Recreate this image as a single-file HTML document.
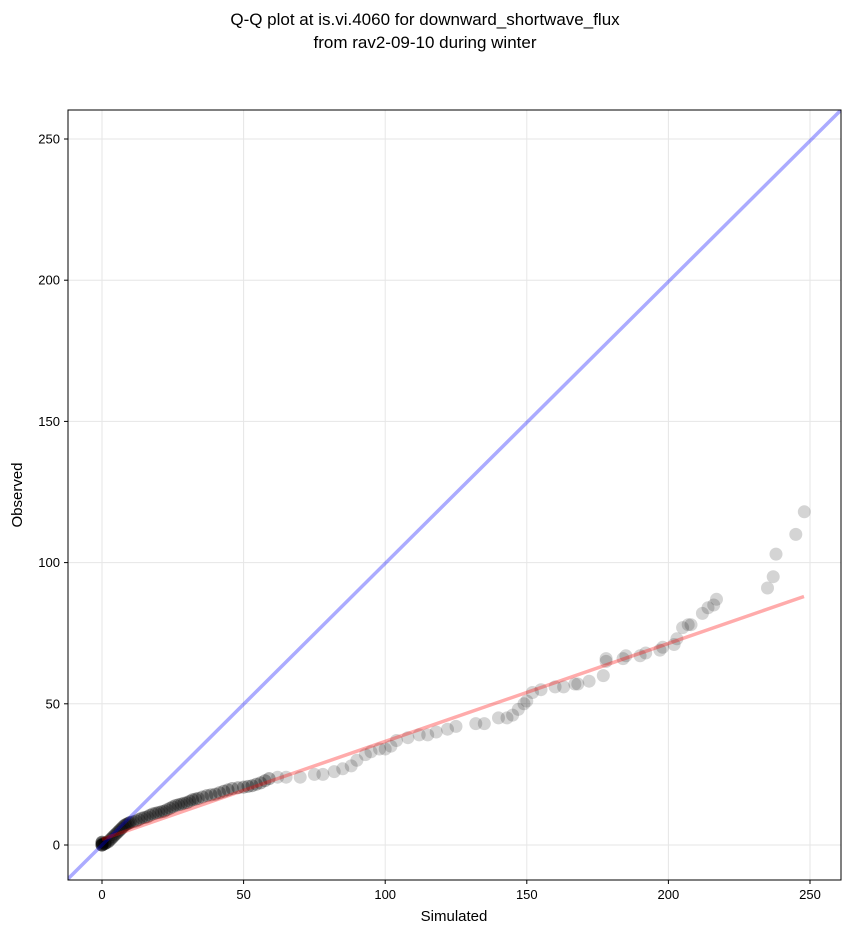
<!DOCTYPE html>
<html><head><meta charset="utf-8"><style>
body{margin:0;background:#fff;font-family:"Liberation Sans","DejaVu Sans",sans-serif;}
circle{fill:#000;fill-opacity:0.17;}
.d circle{fill-opacity:0.3;}
</style></head><body>
<svg width="851" height="934" xmlns="http://www.w3.org/2000/svg" font-family="Liberation Sans, DejaVu Sans, sans-serif">
<rect width="851" height="934" fill="#fff"/>
<text x="425" y="25" font-size="17" text-anchor="middle">Q-Q plot at is.vi.4060 for downward_shortwave_flux</text>
<text x="425" y="48" font-size="17" text-anchor="middle">from rav2-09-10 during winter</text>
<defs><clipPath id="c"><rect x="68" y="110" width="773" height="770"/></clipPath></defs>
<g stroke="#e6e6e6" stroke-width="1">
<line x1="102" y1="110" x2="102" y2="880"/><line x1="243.6" y1="110" x2="243.6" y2="880"/><line x1="385.2" y1="110" x2="385.2" y2="880"/><line x1="526.8" y1="110" x2="526.8" y2="880"/><line x1="668.4" y1="110" x2="668.4" y2="880"/><line x1="810" y1="110" x2="810" y2="880"/>
<line x1="68" y1="845" x2="841" y2="845"/><line x1="68" y1="703.8" x2="841" y2="703.8"/><line x1="68" y1="562.6" x2="841" y2="562.6"/><line x1="68" y1="421.4" x2="841" y2="421.4"/><line x1="68" y1="280.2" x2="841" y2="280.2"/><line x1="68" y1="139" x2="841" y2="139"/>
</g>
<g clip-path="url(#c)">
<g class="d">
<circle cx="102" cy="845" r="6.5"/><circle cx="102" cy="845" r="6.5"/><circle cx="102" cy="845" r="6.5"/><circle cx="102" cy="842.2" r="6.5"/><circle cx="102" cy="842.2" r="6.5"/><circle cx="102" cy="843.5" r="6.5"/>
<circle cx="103" cy="844" r="6.5"/><circle cx="104.8" cy="843.6" r="6.5"/><circle cx="104.8" cy="843.6" r="6.5"/><circle cx="106" cy="842.8" r="6.5"/><circle cx="107.7" cy="842.2" r="6.5"/><circle cx="109" cy="841" r="6.5"/>
<circle cx="110.5" cy="839.4" r="6.5"/><circle cx="112" cy="838" r="6.5"/><circle cx="113.3" cy="836.5" r="6.5"/><circle cx="114.8" cy="835" r="6.5"/><circle cx="116.2" cy="833.7" r="6.5"/><circle cx="117.6" cy="832.3" r="6.5"/>
<circle cx="119" cy="830.9" r="6.5"/><circle cx="120.4" cy="829.5" r="6.5"/><circle cx="121.8" cy="828.1" r="6.5"/><circle cx="123.2" cy="826.6" r="6.5"/><circle cx="124.7" cy="825.2" r="6.5"/><circle cx="126" cy="824.5" r="6.5"/>
<circle cx="127.5" cy="823.8" r="6.5"/><circle cx="129" cy="823" r="6.5"/><circle cx="130.3" cy="822.4" r="6.5"/><circle cx="133" cy="821.7" r="6.5"/><circle cx="136" cy="821" r="6.5"/><circle cx="138.8" cy="819.6" r="6.5"/>
<circle cx="141.6" cy="818.2" r="6.5"/><circle cx="144.5" cy="817.5" r="6.5"/><circle cx="147.3" cy="816.8" r="6.5"/><circle cx="150" cy="815.3" r="6.5"/><circle cx="153" cy="813.9" r="6.5"/><circle cx="155.8" cy="813.2" r="6.5"/>
<circle cx="158.6" cy="812.5" r="6.5"/><circle cx="161.5" cy="811.8" r="6.5"/><circle cx="164.3" cy="811.1" r="6.5"/><circle cx="167" cy="809.7" r="6.5"/><circle cx="170" cy="808.3" r="6.5"/><circle cx="172.8" cy="806.9" r="6.5"/>
<circle cx="175.6" cy="805.5" r="6.5"/><circle cx="178.5" cy="804.8" r="6.5"/><circle cx="181.3" cy="804.1" r="6.5"/><circle cx="184" cy="803.3" r="6.5"/><circle cx="187" cy="802.6" r="6.5"/><circle cx="189.8" cy="801.2" r="6.5"/>
<circle cx="192.6" cy="799.8" r="6.5"/><circle cx="195.5" cy="799.1" r="6.5"/><circle cx="198.3" cy="798.4" r="6.5"/><circle cx="202.5" cy="797" r="6.5"/><circle cx="206.8" cy="795.6" r="6.5"/><circle cx="211" cy="794.9" r="6.5"/>
<circle cx="215.3" cy="794.2" r="6.5"/><circle cx="219.5" cy="792.7" r="6.5"/><circle cx="223.8" cy="791.3" r="6.5"/><circle cx="228" cy="789.9" r="6.5"/><circle cx="232.3" cy="788.5" r="6.5"/><circle cx="238" cy="787.8" r="6.5"/>
<circle cx="243.6" cy="787.1" r="6.5"/><circle cx="248" cy="786.4" r="6.5"/><circle cx="252.1" cy="785.7" r="6.5"/><circle cx="256.3" cy="784.3" r="6.5"/><circle cx="260.6" cy="782.9" r="6.5"/><circle cx="265" cy="780.7" r="6.5"/>
<circle cx="269.1" cy="778.6" r="6.5"/>
</g>
<g>
<circle cx="277.6" cy="777.2" r="6.5"/>
<circle cx="286.1" cy="777.2" r="6.5"/><circle cx="300.2" cy="777.2" r="6.5"/><circle cx="314.4" cy="774.4" r="6.5"/><circle cx="322.9" cy="774.4" r="6.5"/><circle cx="334.2" cy="771.6" r="6.5"/><circle cx="342.7" cy="768.8" r="6.5"/>
<circle cx="351.2" cy="765.9" r="6.5"/><circle cx="356.9" cy="760.3" r="6.5"/><circle cx="365.4" cy="754.6" r="6.5"/><circle cx="371" cy="751.8" r="6.5"/><circle cx="379.5" cy="749" r="6.5"/><circle cx="385.2" cy="749" r="6.5"/>
<circle cx="390.9" cy="746.2" r="6.5"/><circle cx="396.5" cy="740.5" r="6.5"/><circle cx="407.9" cy="737.7" r="6.5"/><circle cx="419.2" cy="734.9" r="6.5"/><circle cx="427.7" cy="734.9" r="6.5"/><circle cx="436.2" cy="732" r="6.5"/>
<circle cx="447.5" cy="729.2" r="6.5"/><circle cx="456" cy="726.4" r="6.5"/><circle cx="475.8" cy="723.6" r="6.5"/><circle cx="484.3" cy="723.6" r="6.5"/><circle cx="498.5" cy="717.9" r="6.5"/><circle cx="507" cy="717.9" r="6.5"/>
<circle cx="512.6" cy="715.1" r="6.5"/><circle cx="518.3" cy="709.4" r="6.5"/><circle cx="524" cy="703.8" r="6.5"/><circle cx="526.8" cy="701" r="6.5"/><circle cx="532.5" cy="692.5" r="6.5"/><circle cx="541" cy="689.7" r="6.5"/>
<circle cx="555.1" cy="686.9" r="6.5"/><circle cx="563.6" cy="686.9" r="6.5"/><circle cx="574.9" cy="684" r="6.5"/><circle cx="577.8" cy="684" r="6.5"/><circle cx="589.1" cy="681.2" r="6.5"/><circle cx="603.3" cy="675.6" r="6.5"/>
<circle cx="606.1" cy="661.4" r="6.5"/><circle cx="606.1" cy="658.6" r="6.5"/><circle cx="623.1" cy="658.6" r="6.5"/><circle cx="625.9" cy="655.8" r="6.5"/><circle cx="640.1" cy="655.8" r="6.5"/><circle cx="645.7" cy="653" r="6.5"/>
<circle cx="659.9" cy="650.1" r="6.5"/><circle cx="662.7" cy="647.3" r="6.5"/><circle cx="674.1" cy="644.5" r="6.5"/><circle cx="676.9" cy="638.8" r="6.5"/><circle cx="682.6" cy="627.6" r="6.5"/><circle cx="688.2" cy="624.7" r="6.5"/>
<circle cx="691" cy="624.7" r="6.5"/><circle cx="702.4" cy="613.4" r="6.5"/><circle cx="708" cy="607.8" r="6.5"/><circle cx="713.7" cy="605" r="6.5"/><circle cx="716.5" cy="599.3" r="6.5"/><circle cx="767.5" cy="588" r="6.5"/>
<circle cx="773.2" cy="576.7" r="6.5"/><circle cx="776" cy="554.1" r="6.5"/><circle cx="795.8" cy="534.4" r="6.5"/><circle cx="804.3" cy="511.8" r="6.5"/>
</g>
<line x1="68" y1="878.9" x2="841" y2="110" stroke="#0000ff" stroke-opacity="0.33" stroke-width="3.5"/>
<line x1="102" y1="839.4" x2="804" y2="596.5" stroke="#ff0000" stroke-opacity="0.33" stroke-width="3.5"/>
</g>
<rect x="68" y="110" width="773" height="770" fill="none" stroke="#000" stroke-width="1"/>
<g font-size="13" text-anchor="middle">
<g stroke="#000"><line x1="102" y1="880" x2="102" y2="884"/><line x1="243.6" y1="880" x2="243.6" y2="884"/><line x1="385.2" y1="880" x2="385.2" y2="884"/><line x1="526.8" y1="880" x2="526.8" y2="884"/><line x1="668.4" y1="880" x2="668.4" y2="884"/><line x1="810" y1="880" x2="810" y2="884"/>
<line x1="64" y1="845" x2="68" y2="845"/><line x1="64" y1="703.8" x2="68" y2="703.8"/><line x1="64" y1="562.6" x2="68" y2="562.6"/><line x1="64" y1="421.4" x2="68" y2="421.4"/><line x1="64" y1="280.2" x2="68" y2="280.2"/><line x1="64" y1="139" x2="68" y2="139"/></g>
<text x="102" y="899">0</text><text x="243.6" y="899">50</text><text x="385.2" y="899">100</text><text x="526.8" y="899">150</text><text x="668.4" y="899">200</text><text x="810" y="899">250</text>
</g>
<g font-size="13" text-anchor="end">
<text x="60" y="849.5">0</text><text x="60" y="708.3">50</text><text x="60" y="567.1">100</text><text x="60" y="425.9">150</text><text x="60" y="284.7">200</text><text x="60" y="143.5">250</text>
</g>
<text x="454" y="921" font-size="15" text-anchor="middle">Simulated</text>
<text x="22" y="495" font-size="15" text-anchor="middle" transform="rotate(-90 22 495)">Observed</text>
</svg>
</body></html>
